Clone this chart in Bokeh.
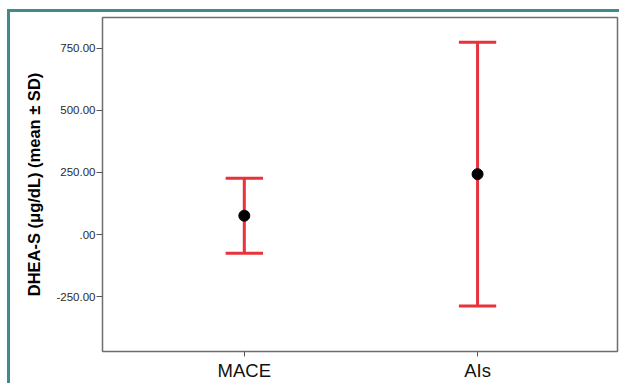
from bokeh.plotting import figure
from bokeh.models import Range1d, FixedTicker, ColumnDataSource, InlineStyleSheet
from bokeh.embed import file_html
from bokeh.resources import INLINE

categories = ["MACE", "AIs"]
means = [76, 243]
sds = [151, 530]
y_ticks = [-250, 0, 250, 500, 750]
y_tick_labels = ["-250.00", ".00", "250.00", "500.00", "750.00"]

xs = list(range(len(categories)))
upper = [m + s for m, s in zip(means, sds)]
lower = [m - s for m, s in zip(means, sds)]
cap_half = 0.08
src = ColumnDataSource(dict(
    x=xs, mean=means, upper=upper, lower=lower,
    x0=[x - cap_half for x in xs], x1=[x + cap_half for x in xs],
))

css = InlineStyleSheet(css="""
:host { position: relative; }
:host::after {
  content: "";
  position: absolute;
  left: 7px; top: 9px; right: -20px; bottom: -20px;
  border-left: 3px solid #3f8b8b;
  border-top: 3px solid #3f8b8b;
  pointer-events: none;
}
""")

p = figure(width=619, height=383, output_backend="svg", toolbar_location=None,
           x_range=Range1d(-0.608, 1.6), y_range=Range1d(-470, 873),
           min_border_left=102, min_border_right=2, min_border_top=17, min_border_bottom=30,
           stylesheets=[css])
p.background_fill_color = "white"
p.border_fill_color = "white"
p.outline_line_color = "#6e6e6e"
p.outline_line_width = 1.5
p.xgrid.visible = False
p.ygrid.visible = False

red = "#e8323c"
p.segment(x0="x", y0="lower", x1="x", y1="upper", source=src, line_color=red, line_width=3)
p.segment(x0="x0", y0="upper", x1="x1", y1="upper", source=src, line_color=red, line_width=3)
p.segment(x0="x0", y0="lower", x1="x1", y1="lower", source=src, line_color=red, line_width=3)
p.scatter(x="x", y="mean", source=src, size=11, color="black")

p.yaxis.ticker = FixedTicker(ticks=y_ticks)
p.yaxis.major_label_overrides = {t: l for t, l in zip(y_ticks, y_tick_labels)}
p.yaxis.minor_tick_line_color = None
p.yaxis.major_tick_in = 0
p.yaxis.major_tick_out = 6
p.yaxis.major_tick_line_color = "#555555"
p.yaxis.axis_line_color = "#6e6e6e"
p.yaxis.major_label_text_font = "Liberation Sans"
p.yaxis.major_label_text_font_size = "11.5px"
p.yaxis.major_label_text_color = "#2a2a2a"
p.yaxis.major_label_standoff = 1
p.yaxis.axis_label = "DHEA-S (μg/dL) (mean ± SD)"
p.yaxis.axis_label_text_font = "Liberation Sans"
p.yaxis.axis_label_text_font_style = "bold"
p.yaxis.axis_label_text_font_size = "16.5px"
p.yaxis.axis_label_text_color = "black"
p.yaxis.axis_label_standoff = 10

p.xaxis.ticker = FixedTicker(ticks=xs)
p.xaxis.major_label_overrides = {x: c for x, c in zip(xs, categories)}
p.xaxis.minor_tick_line_color = None
p.xaxis.major_tick_in = 0
p.xaxis.major_tick_out = 5
p.xaxis.major_tick_line_color = "#555555"
p.xaxis.axis_line_color = "#6e6e6e"
p.xaxis.major_label_text_font = "Liberation Sans"
p.xaxis.major_label_text_font_size = "18.5px"
p.xaxis.major_label_text_color = "#111111"
p.xaxis.major_label_standoff = 3

open("out.html", "w").write(file_html(p, INLINE))
